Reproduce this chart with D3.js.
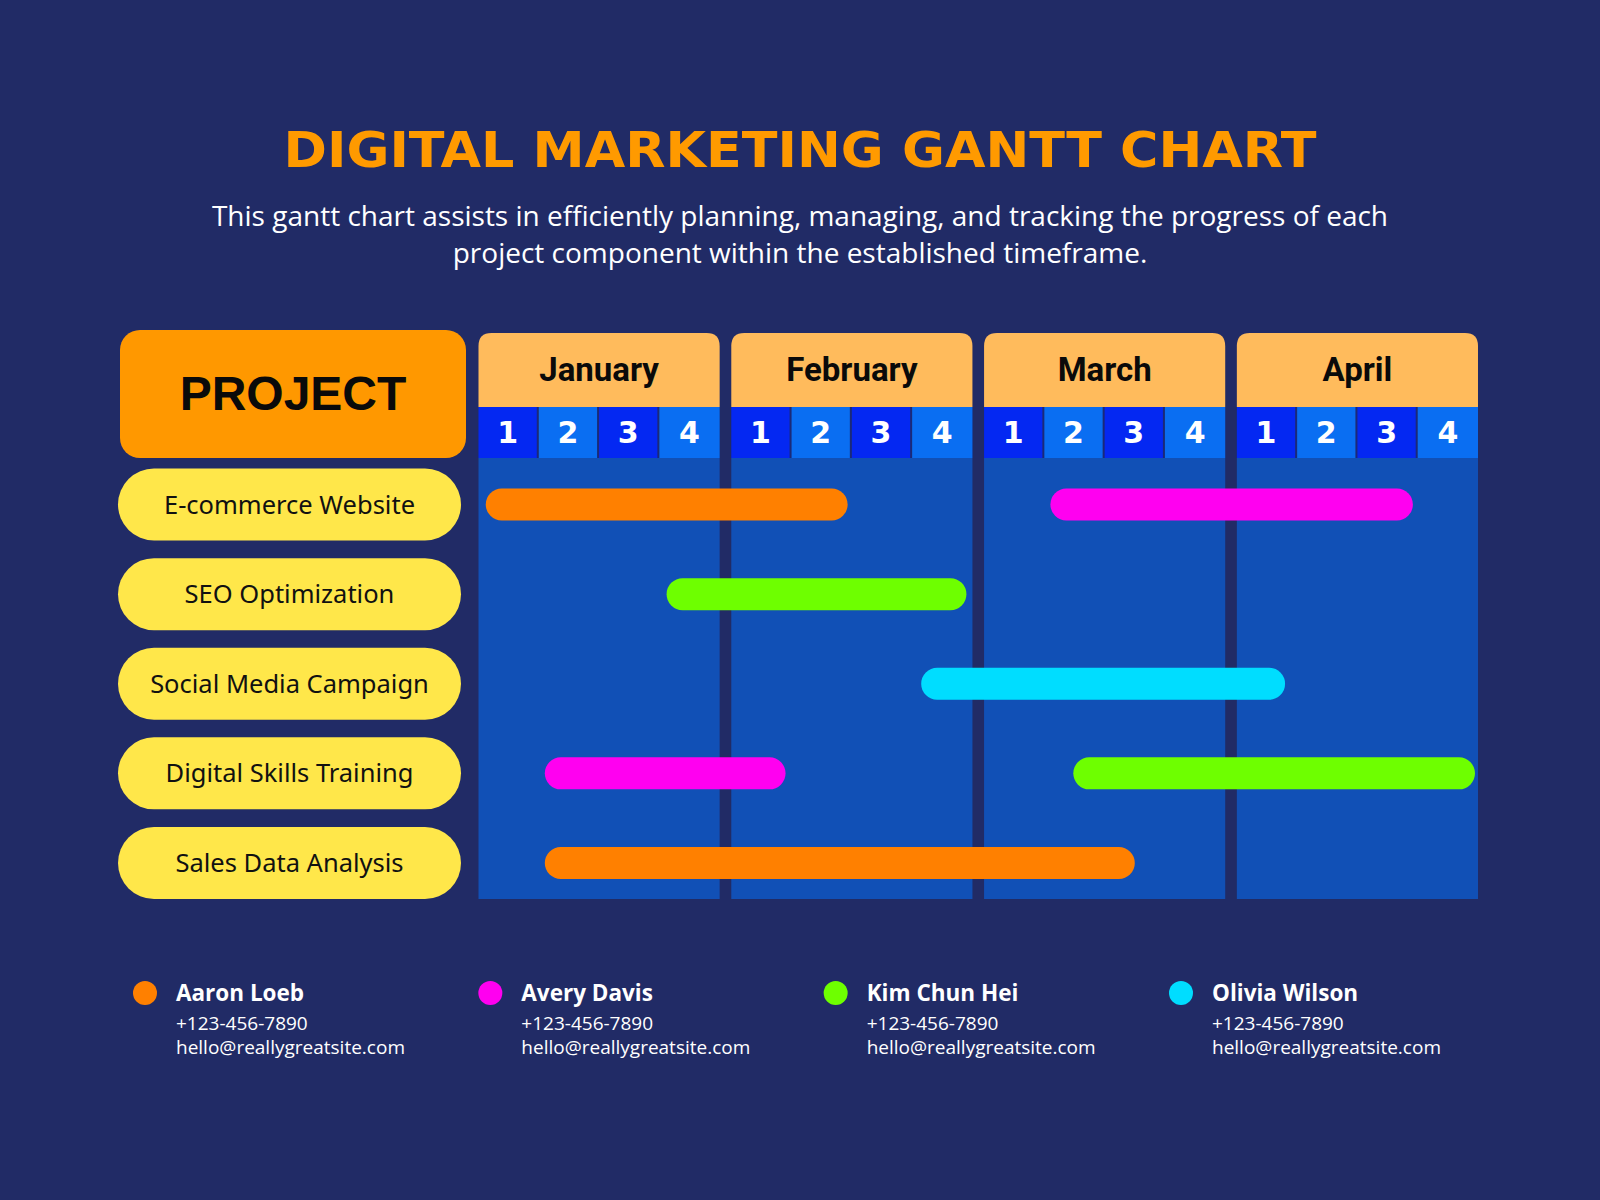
<!DOCTYPE html>
<html>
<head>
<meta charset="utf-8">
<script src="https://cdn.jsdelivr.net/npm/d3@7"></script>
<style>
  html, body { margin: 0; padding: 0; background: #212B66; }
  svg { display: block; }
</style>
</head>
<body>
<svg id="chart" width="1600" height="1200"></svg>
<script>
// ---------- DATA ----------
const title = "DIGITAL MARKETING GANTT CHART";
const subtitleLines = [
  "This gantt chart assists in efficiently planning, managing, and tracking the progress of each",
  "project component within the established timeframe."
];
const months = ["January", "February", "March", "April"];
const weekLabels = ["1", "2", "3", "4"];
const projects = ["E-commerce Website", "SEO Optimization", "Social Media Campaign", "Digital Skills Training", "Sales Data Analysis"];
const people = ["Aaron Loeb", "Avery Davis", "Kim Chun Hei", "Olivia Wilson"];
const phones = ["+123-456-7890", "+123-456-7890", "+123-456-7890", "+123-456-7890"];
const emails = ["hello@reallygreatsite.com", "hello@reallygreatsite.com", "hello@reallygreatsite.com", "hello@reallygreatsite.com"];
const personColors = ["#FF8000", "#FF00F0", "#6EFF00", "#00DDFF"];
// tasks: project, owner, start week, end week (weeks counted from Jan week 1 = 0, 16 = end of April)
const taskProject = ["E-commerce Website", "E-commerce Website", "SEO Optimization", "Social Media Campaign", "Digital Skills Training", "Digital Skills Training", "Sales Data Analysis"];
const taskOwner   = ["Aaron Loeb", "Avery Davis", "Kim Chun Hei", "Olivia Wilson", "Avery Davis", "Kim Chun Hei", "Aaron Loeb"];
const taskStart   = [0.12, 9.1, 3.12, 7.15, 1.1, 9.48, 1.1];
const taskEnd     = [5.93, 14.92, 7.9, 12.8, 4.9, 15.95, 10.5];

const tasks = taskProject.map((p, i) => ({ project: p, owner: taskOwner[i], start: taskStart[i], end: taskEnd[i] }));

// ---------- LAYOUT ----------
const svg = d3.select("#chart");
const W = 1600;
const bg = "#212B66";
svg.append("rect").attr("width", W).attr("height", 1200).attr("fill", bg);

// Title
svg.append("text")
  .attr("x", W / 2).attr("y", 167)
  .attr("text-anchor", "middle")
  .attr("font-family", "DejaVu Sans")
  .attr("font-weight", 700)
  .attr("font-size", 50)
  .attr("textLength", 1033)
  .attr("lengthAdjust", "spacingAndGlyphs")
  .attr("fill", "#FF9A00")
  .text(title);

svg.selectAll("text.sub").data(subtitleLines).join("text")
  .attr("class", "sub")
  .attr("x", W / 2)
  .attr("y", (d, i) => 226 + i * 37)
  .attr("text-anchor", "middle")
  .attr("font-family", "Open Sans")
  .attr("font-size", 28)
  .attr("fill", "#FFFFFF")
  .text(d => d);

// Scales
const xMonth = d3.scaleBand().domain(months).range([478.5, 1478]).paddingInner(0.046).paddingOuter(0);
const xWeek = d3.scaleLinear().domain([0, 4]).range([0, xMonth.bandwidth()]);
const xPos = w => {
  let m = Math.floor(w / 4);
  if (m > 3) m = 3;
  return xMonth(months[m]) + xWeek(w - m * 4);
};
const yRow = d3.scaleBand().domain(projects).range([459.7, 907.8]).padding(0);
const rowC = p => yRow(p) + yRow.step() / 2;

const headerTop = 333, headerBot = 407, weekBot = 458, bodyBot = 899;

// Project header box
svg.append("rect")
  .attr("x", 120).attr("y", 330).attr("width", 346).attr("height", 128)
  .attr("rx", 20).attr("fill", "#FF9800");
svg.append("text")
  .attr("x", 293).attr("y", 410)
  .attr("text-anchor", "middle")
  .attr("font-family", "Liberation Sans")
  .attr("font-weight", 700)
  .attr("font-size", 48)
  .attr("fill", "#0A0A0A")
  .text("PROJECT");

// Month columns
const mg = svg.selectAll("g.month").data(months).join("g")
  .attr("class", "month")
  .attr("transform", d => `translate(${xMonth(d)},0)`);
const bw = xMonth.bandwidth();
const r = 13;
mg.append("path")
  .attr("d", `M0,${headerBot} L0,${headerTop + r} Q0,${headerTop} ${r},${headerTop} L${bw - r},${headerTop} Q${bw},${headerTop} ${bw},${headerTop + r} L${bw},${headerBot} Z`)
  .attr("fill", "#FFBB5C");
mg.append("rect")
  .attr("x", 0).attr("y", weekBot).attr("width", bw).attr("height", bodyBot - weekBot)
  .attr("fill", "#1150B6");
mg.append("rect")
  .attr("x", 0).attr("y", headerBot).attr("width", bw).attr("height", weekBot - headerBot)
  .attr("fill", "#1B2A78");
mg.append("text")
  .attr("x", bw / 2).attr("y", 381)
  .attr("text-anchor", "middle")
  .attr("font-family", "Roboto")
  .attr("font-weight", 700)
  .attr("font-size", 33)
  .attr("fill", "#0A0A0A")
  .text(d => d);

// week cells
const wk = mg.selectAll("g.wk").data(weekLabels).join("g").attr("class", "wk");
wk.append("rect")
  .attr("x", (d, i) => xWeek(i))
  .attr("y", headerBot)
  .attr("width", (d, i) => xWeek(1) - xWeek(0) - (i < 3 ? 2 : 0))
  .attr("height", weekBot - headerBot)
  .attr("fill", (d, i) => i % 2 === 0 ? "#0428F2" : "#0A6EF2");
wk.append("text")
  .attr("x", (d, i) => xWeek(i + 0.5) - (i < 3 ? 1 : 0))
  .attr("y", 443)
  .attr("text-anchor", "middle")
  .attr("font-family", "DejaVu Sans")
  .attr("font-weight", 700)
  .attr("font-size", 30)
  .attr("fill", "#FFFFFF")
  .text(d => d);

// Project pills
svg.selectAll("rect.pill").data(projects).join("rect")
  .attr("class", "pill")
  .attr("x", 118).attr("y", d => rowC(d) - 36)
  .attr("width", 343).attr("height", 72)
  .attr("rx", 36)
  .attr("fill", "#FFE74A");
svg.selectAll("text.pill").data(projects).join("text")
  .attr("class", "pill")
  .attr("x", 289.5).attr("y", d => rowC(d) + 9)
  .attr("text-anchor", "middle")
  .attr("font-family", "Noto Sans")
  .attr("font-size", 25.5)
  .attr("fill", "#111111")
  .text(d => d);

// Bars
const colorOf = d3.scaleOrdinal().domain(people).range(personColors);
svg.selectAll("rect.bar").data(tasks).join("rect")
  .attr("class", "bar")
  .attr("x", d => xPos(d.start))
  .attr("y", d => rowC(d.project) - 16)
  .attr("width", d => xPos(d.end) - xPos(d.start))
  .attr("height", 32)
  .attr("rx", 16)
  .attr("fill", d => colorOf(d.owner));

// Legend
const legendX = d3.scalePoint().domain(people).range([145, 1181]);
const lg = svg.selectAll("g.legend").data(people).join("g")
  .attr("class", "legend")
  .attr("transform", d => `translate(${legendX(d)},0)`);
lg.append("circle").attr("cx", 0).attr("cy", 993).attr("r", 12).attr("fill", d => colorOf(d));
lg.append("text")
  .attr("x", 31).attr("y", 1001)
  .attr("font-family", "Open Sans").attr("font-weight", 700).attr("font-size", 22.5)
  .attr("fill", "#FFFFFF")
  .text(d => d);
lg.append("text")
  .attr("x", 31).attr("y", 1030)
  .attr("font-family", "Open Sans").attr("font-size", 19)
  .attr("fill", "#FFFFFF")
  .text((d, i) => phones[i]);
lg.append("text")
  .attr("x", 31).attr("y", 1054)
  .attr("font-family", "Open Sans").attr("font-size", 19)
  .attr("fill", "#FFFFFF")
  .text((d, i) => emails[i]);
</script>
</body>
</html>
